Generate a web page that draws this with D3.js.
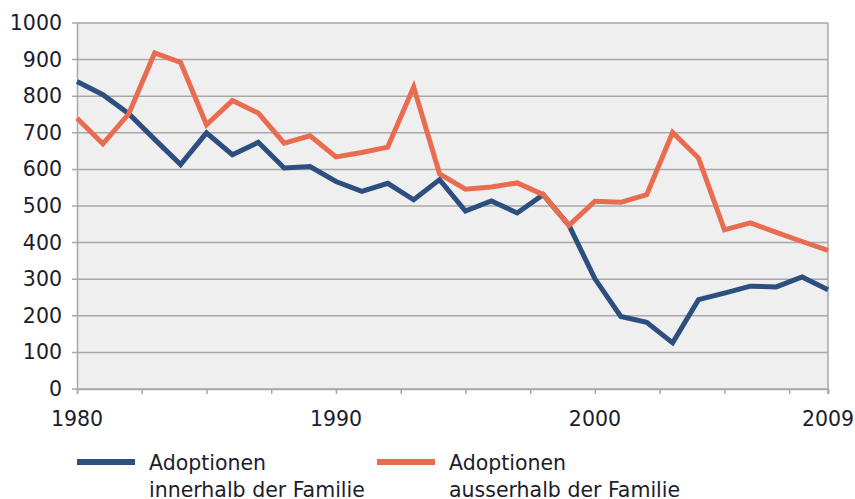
<!DOCTYPE html>
<html>
<head>
<meta charset="utf-8">
<script src="https://cdn.jsdelivr.net/npm/d3@7"></script>
<style>
  body { margin: 0; background: #fff; }
  svg { display: block; }
</style>
</head>
<body>
<div id="chart"></div>
<script>
// data
var years = d3.range(1980, 2010);
var innerhalb = [840, 804, 752, 682, 613, 700, 640, 674, 604, 608,
                 567, 540, 562, 517, 572, 486, 514, 481, 531, 447,
                 301, 198, 182, 126, 244, 262, 281, 279, 306, 271];
var ausserhalb = [740, 670, 752, 918, 892, 722, 788, 754, 672, 692,
                  634, 646, 661, 825, 588, 546, 552, 563, 531, 447,
                  513, 510, 531, 701, 631, 435, 454, 428, 403, 379];
var yTicks = [0, 100, 200, 300, 400, 500, 600, 700, 800, 900, 1000];
var xLabels = [1980, 1990, 2000, 2009];
var seriesNames = [["Adoptionen", "innerhalb der Familie"], ["Adoptionen", "ausserhalb der Familie"]];
var colors = ["#2d4f7f", "#e96c51"];

var width = 855, height = 499;
var plotLeft = 77, plotRight = 828, plotTop = 23, plotBottom = 389;
var font = "DejaVu Sans, sans-serif";
var textColor = "#1c1c2c";

var svg = d3.select("#chart").append("svg")
	.attr("width", width)
	.attr("height", height);

var x = d3.scaleLinear().domain([1980, 2009]).range([plotLeft, plotRight]);
var y = d3.scaleLinear().domain([0, 1000]).range([plotBottom, plotTop]);

// plot background
svg.append("rect")
	.attr("x", plotLeft).attr("y", plotTop)
	.attr("width", plotRight - plotLeft).attr("height", plotBottom - plotTop)
	.attr("fill", "#efefef");

// gridlines
svg.append("g").selectAll("line")
	.data(yTicks)
	.enter().append("line")
	.attr("x1", plotLeft - 5).attr("x2", plotRight)
	.attr("y1", function(d){ return y(d); })
	.attr("y2", function(d){ return y(d); })
	.attr("stroke", "#a8a8a8")
	.attr("stroke-width", 1.5);

// right border
svg.append("line")
	.attr("x1", plotRight).attr("x2", plotRight)
	.attr("y1", plotTop).attr("y2", plotBottom + 5)
	.attr("stroke", "#a8a8a8").attr("stroke-width", 1.5);

// y axis
var yAxis = d3.axisLeft(y).tickValues(yTicks).tickSize(0).tickPadding(15).tickFormat(d3.format("d"));
var gy = svg.append("g").attr("transform", "translate(" + plotLeft + ",0)").call(yAxis);
gy.select(".domain").attr("stroke", "#a8a8a8").attr("stroke-width", 1.5);
gy.selectAll("text")
	.attr("font-family", font)
	.attr("font-size", 20.5)
	.attr("fill", textColor);

// x axis, ticks every 2.5 years like the original
var xTickVals = d3.range(1980, 2009, 2.5).concat([2009]);
var xAxis = d3.axisBottom(x).tickValues(xTickVals).tickSize(5).tickFormat("");
var gx = svg.append("g").attr("transform", "translate(0," + plotBottom + ")").call(xAxis);
gx.select(".domain").attr("stroke", "#a8a8a8").attr("stroke-width", 1.5);
gx.selectAll(".tick line").attr("stroke", "#a8a8a8").attr("stroke-width", 1.5);

svg.append("g").selectAll("text")
	.data(xLabels)
	.enter().append("text")
	.attr("x", function(d){ return x(d); })
	.attr("y", 426)
	.attr("text-anchor", "middle")
	.attr("font-family", font)
	.attr("font-size", 20.5)
	.attr("fill", textColor)
	.text(function(d){ return d; });

// lines
var line = d3.line()
	.x(function(d, i){ return x(years[i]); })
	.y(function(d){ return y(d); });

[innerhalb, ausserhalb].forEach(function(series, i){
	svg.append("path")
		.datum(series)
		.attr("d", line)
		.attr("fill", "none")
		.attr("stroke", colors[i])
		.attr("stroke-width", 5)
		.attr("stroke-linejoin", "miter");
});

// legend
var legendX = [77, 377];
seriesNames.forEach(function(name, i){
	var g = svg.append("g").attr("transform", "translate(" + legendX[i] + ",462)");
	g.append("line")
		.attr("x1", 0).attr("x2", 58)
		.attr("y1", 0).attr("y2", 0)
		.attr("stroke", colors[i])
		.attr("stroke-width", 6);
	var t = g.append("text")
		.attr("y", 8)
		.attr("font-family", font)
		.attr("font-size", 20.5)
		.attr("fill", textColor);
	t.append("tspan").attr("x", 72).attr("dy", 0).text(name[0]);
	t.append("tspan").attr("x", 72).attr("dy", 27).text(name[1]);
});
</script>
</body>
</html>
